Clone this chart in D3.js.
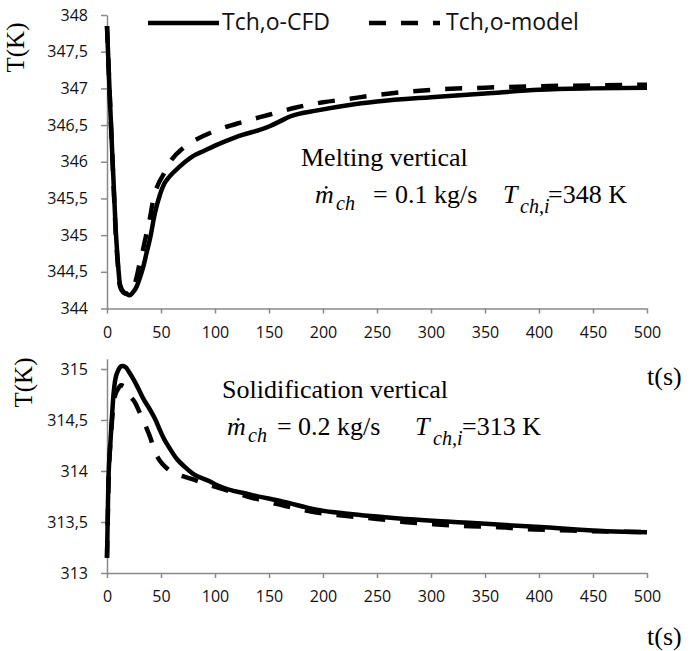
<!DOCTYPE html>
<html>
<head>
<meta charset="utf-8">
<script src="https://cdn.jsdelivr.net/npm/d3@7"></script>
<style>
  body { margin: 0; background: #fff; }
  .tick text { font-family: "Open Sans", sans-serif; font-size: 16px; fill: #111; }
  .axis path, .axis line { stroke: #8a8a8a; stroke-width: 1.5px; }
  .ann { font-family: "Liberation Serif", "Times New Roman", serif; font-size: 26px; fill: #000; }
</style>
</head>
<body>
<div id="chart"></div>
<script>
// melting vertical (top panel)
const meltCfdT = [0, 2, 4, 6, 8, 10, 12, 15, 18, 21, 24, 27.5, 30, 33.6, 36.5, 39.8, 44.4, 49, 53, 58, 67, 80, 90, 100, 120, 150, 160, 170, 195, 223, 250, 300, 350, 400, 450, 500];
const meltCfd  = [347.85, 347.1, 346.4, 345.75, 345.1, 344.65, 344.33, 344.23, 344.2, 344.18, 344.22, 344.3, 344.4, 344.57, 344.75, 344.95, 345.3, 345.55, 345.7, 345.8, 345.93, 346.08, 346.15, 346.22, 346.34, 346.48, 346.55, 346.62, 346.7, 346.77, 346.82, 346.88, 346.93, 346.98, 347.0, 347.01];
const meltModelT = [0, 2, 4, 6, 8, 10, 12, 15, 18, 21, 24, 27, 30, 33, 37, 40, 43, 47, 52, 60, 70, 80, 100, 125, 150, 175, 200, 225, 250, 275, 300, 350, 400, 450, 500];
const meltModel  = [347.85, 347.1, 346.4, 345.7, 345.05, 344.6, 344.3, 344.22, 344.2, 344.2, 344.25, 344.4, 344.6, 344.78, 345.05, 345.25, 345.5, 345.68, 345.82, 346.03, 346.18, 346.28, 346.42, 346.54, 346.64, 346.74, 346.81, 346.86, 346.91, 346.95, 346.98, 347.01, 347.03, 347.04, 347.05];

// solidification vertical (bottom panel)
const solCfdT = [0, 1.2, 3, 4.3, 6, 7.4, 10.5, 14, 17, 21, 27.5, 33.6, 41, 45, 49, 53, 57, 64.5, 72, 80, 95, 102, 132, 163, 194, 223, 277, 339, 401, 463, 500];
const solCfd  = [313.15, 313.86, 314.25, 314.48, 314.75, 314.88, 314.99, 315.03, 315.02, 314.96, 314.84, 314.71, 314.58, 314.5, 314.4, 314.31, 314.24, 314.12, 314.04, 313.97, 313.9, 313.86, 313.77, 313.7, 313.62, 313.58, 313.53, 313.49, 313.45, 313.41, 313.4];
const solModelT = [0, 1.5, 4, 7, 10, 13, 17, 21, 26, 30, 35, 40, 44, 49, 54, 60, 70, 79, 90, 105, 130, 160, 190, 220, 250, 275, 300, 330, 360, 390, 420, 450, 500];
const solModel  = [313.15, 313.9, 314.4, 314.72, 314.8, 314.84, 314.82, 314.74, 314.67, 314.58, 314.46, 314.33, 314.2, 314.1, 314.04, 313.99, 313.95, 313.92, 313.88, 313.83, 313.75, 313.67, 313.6, 313.56, 313.53, 313.5, 313.48, 313.46, 313.45, 313.43, 313.42, 313.41, 313.4];

const xTicks = [0, 50, 100, 150, 200, 250, 300, 350, 400, 450, 500];
const meltTicks = [344, 344.5, 345, 345.5, 346, 346.5, 347, 347.5, 348];
const solTicks = [313, 313.5, 314, 314.5, 315];
const seriesNames = ['Tch,o-CFD', 'Tch,o-model'];

const width = 691, height = 651;
const svg = d3.select('#chart').append('svg')
    .attr('width', width)
    .attr('height', height);

const x = d3.scaleLinear().domain([0, 500]).range([107, 647]);
const fmt = d => String(d).replace('.', ',');

function drawPanel(p) {
    const y = d3.scaleLinear().domain(p.domain).range(p.range);

    svg.append('g')
        .attr('class', 'axis')
        .attr('transform', `translate(0,${y(p.domain[0])})`)
        .call(d3.axisBottom(x).tickValues(xTicks).tickSize(5).tickSizeOuter(0).tickPadding(13));

    svg.append('g')
        .attr('class', 'axis')
        .attr('transform', `translate(${x(0)},0)`)
        .call(d3.axisLeft(y).tickValues(p.ticks).tickFormat(fmt).tickSize(6).tickSizeOuter(0).tickPadding(13));

    const line = d3.line()
        .x(d => x(d[0]))
        .y(d => y(d[1]))
        .curve(d3.curveMonotoneX);

    svg.append('path')
        .datum(d3.zip(p.modelT, p.model))
        .attr('d', line)
        .attr('fill', 'none')
        .attr('stroke', '#000')
        .attr('stroke-width', 4.5)
        .attr('stroke-dasharray', '17,15');

    svg.append('path')
        .datum(d3.zip(p.cfdT, p.cfd))
        .attr('d', line)
        .attr('fill', 'none')
        .attr('stroke', '#000')
        .attr('stroke-width', 4.5)
        .attr('stroke-linejoin', 'round');

    // y label
    svg.append('text')
        .attr('class', 'ann')
        .attr('transform', `translate(${p.yLab[0]},${p.yLab[1]}) rotate(-90)`)
        .attr('text-anchor', 'middle')
        .style('font-size', '25px')
        .text('T(K)');

    // x label
    svg.append('text')
        .attr('class', 'ann')
        .attr('x', 647)
        .attr('y', p.xLabY)
        .text('t(s)');

    // annotation
    svg.append('text')
        .attr('class', 'ann')
        .attr('x', p.title[0])
        .attr('y', p.title[1])
        .text(p.titleText);

    const f = svg.append('text').attr('class', 'ann').attr('y', p.eqY);
    const a = p.eqX;
    f.append('tspan').attr('x', a[0]).style('font-style', 'italic').text('ṁ');
    f.append('tspan').attr('x', a[1]).attr('dy', 7).style('font-style', 'italic').style('font-size', '20px').text('ch');
    f.append('tspan').attr('x', a[2]).attr('dy', -7).text('=');
    f.append('tspan').attr('x', a[3]).text(p.flow + ' kg/s');
    f.append('tspan').attr('x', a[4]).style('font-style', 'italic').text('T');
    f.append('tspan').attr('x', a[5]).attr('dy', 10).style('font-style', 'italic').style('font-size', '20px').text('ch,i');
    f.append('tspan').attr('x', a[6]).attr('dy', -10).text('=' + p.inlet + ' K');
}

drawPanel({
    domain: [344, 348], range: [308.5, 15], ticks: meltTicks,
    cfdT: meltCfdT, cfd: meltCfd, modelT: meltModelT, model: meltModel,
    yLab: [24, 47.5], xLabY: 385,
    title: [301, 166], titleText: 'Melting vertical',
    eqY: 203, eqX: [315, 336, 373, 395, 503, 520, 548],
    flow: '0.1', inlet: 348
});

drawPanel({
    domain: [313, 315.1], range: [573, 358.8], ticks: solTicks,
    cfdT: solCfdT, cfd: solCfd, modelT: solModelT, model: solModel,
    yLab: [32, 382.5], xLabY: 645,
    title: [222, 398], titleText: 'Solidification vertical',
    eqY: 435, eqX: [227, 248, 277, 298, 415, 433, 462],
    flow: '0.2', inlet: 313
});

// legend
const legend = svg.append('g');
const legendX = [148, 369];
seriesNames.forEach((name, i) => {
    legend.append('line')
        .attr('x1', legendX[i]).attr('x2', legendX[i] + 71)
        .attr('y1', 23).attr('y2', 23)
        .attr('stroke', '#000')
        .attr('stroke-width', 4.5)
        .attr('stroke-dasharray', i === 1 ? '17,15' : null);
    legend.append('text')
        .attr('x', legendX[i] + (i === 1 ? 77 : 74))
        .attr('y', 30)
        .style('font-family', '"Open Sans", sans-serif')
        .style('font-size', '23px')
        .attr('fill', '#111')
        .text(name);
});
</script>
</body>
</html>
